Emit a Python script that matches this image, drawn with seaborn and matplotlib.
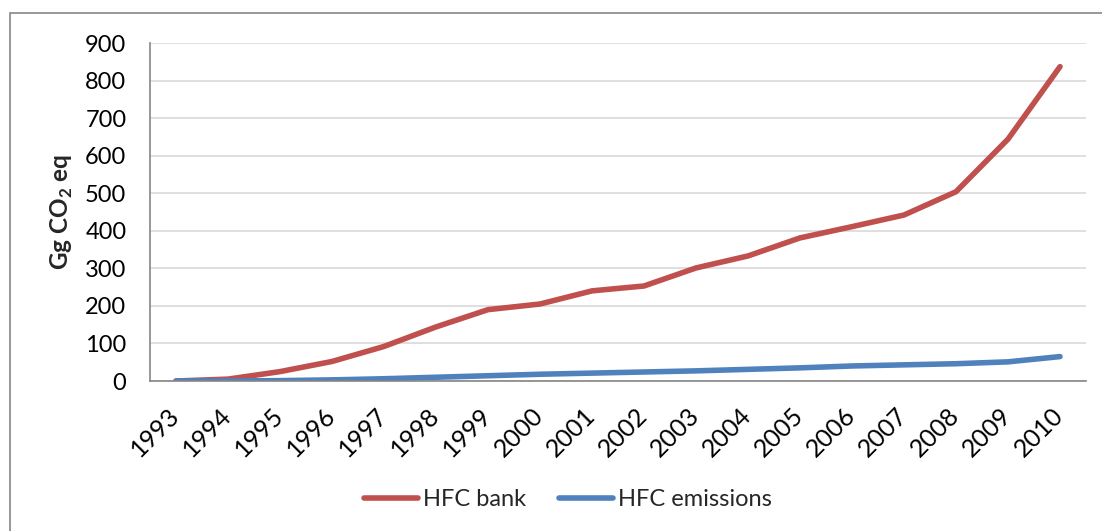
import pandas as pd
import matplotlib
matplotlib.use("Agg")
import matplotlib.pyplot as plt
from matplotlib.patches import Rectangle
from matplotlib.ticker import FixedLocator
import seaborn as sns

# Data
years = [str(y) for y in range(1993, 2011)]
hfc_bank = [0, 5, 25, 52, 92, 144, 190, 205, 240, 253, 301, 333,
            381, 411, 442, 504, 644, 837]
hfc_emissions = [0, 0, 1, 3, 6, 10, 14, 18, 21, 24, 27, 31,
                 35, 40, 43, 46, 51, 65]
series_names = ["HFC bank", "HFC emissions"]
colors = ["#C0504D", "#4F81BD"]

df = pd.DataFrame({
    "year": years * 2,
    "value": hfc_bank + hfc_emissions,
    "series": [series_names[0]] * len(years) + [series_names[1]] * len(years),
})

sns.set_style("white")
plt.rcParams["font.family"] = ["Lato", "DejaVu Sans"]
plt.rcParams["mathtext.fontset"] = "custom"
plt.rcParams["mathtext.rm"] = "Lato"
plt.rcParams["mathtext.bf"] = "Lato:bold"

fig = plt.figure(figsize=(11.02, 5.31), dpi=100)
ax = fig.add_axes([150 / 1102, 1 - 381 / 531, (1086 - 150) / 1102, (381 - 43) / 531])

sns.lineplot(data=df, x="year", y="value", hue="series", palette=colors,
             linewidth=4, ax=ax, legend=True, sort=False)

ax.set_xlim(-0.5, len(years) - 0.5)
ax.set_ylim(0, 900)
ax.set_yticks(range(0, 901, 100))

# category boundaries get the tick marks, labels sit at the centres
ax.set_xticks(range(len(years)))
ax.set_xticklabels(years, rotation=45, ha="right", va="center", rotation_mode="anchor")
ax.xaxis.set_minor_locator(FixedLocator([i - 0.5 for i in range(len(years) + 1)]))
ax.tick_params(axis="x", which="major", length=0, pad=22, labelsize=18, colors="black")
ax.tick_params(axis="x", which="minor", length=5, width=1, color="#868686", direction="out")
ax.tick_params(axis="y", length=6, width=1, color="#868686", direction="out",
               labelsize=17, pad=11, labelcolor="black")

ax.grid(axis="y", color="#D9D9D9", linewidth=1.2)
ax.set_axisbelow(True)
for side in ["top", "right"]:
    ax.spines[side].set_visible(False)
for side in ["left", "bottom"]:
    ax.spines[side].set_color("#868686")
    ax.spines[side].set_linewidth(1.2)

ax.set_xlabel("")
ax.set_ylabel(r"Gg CO$_\mathbf{2}$ eq", fontsize=17.5, fontweight="bold", labelpad=7)

handles, labels = ax.get_legend_handles_labels()
ax.get_legend().remove()
fig.legend(handles, labels, loc="center", bbox_to_anchor=(568 / 1102, 1 - 500 / 531),
           ncol=2, frameon=False, fontsize=17, handlelength=2.3, handletextpad=0.2,
           columnspacing=1.4)

# chart-area border, cut off at the right and bottom like the reference
fig.add_artist(Rectangle((10 / 1102, -0.05), 1.1, 1 - 13 / 531 + 0.05,
                         transform=fig.transFigure, fill=False,
                         edgecolor="#868686", linewidth=1.2))

fig.savefig("out.png", dpi=100)
